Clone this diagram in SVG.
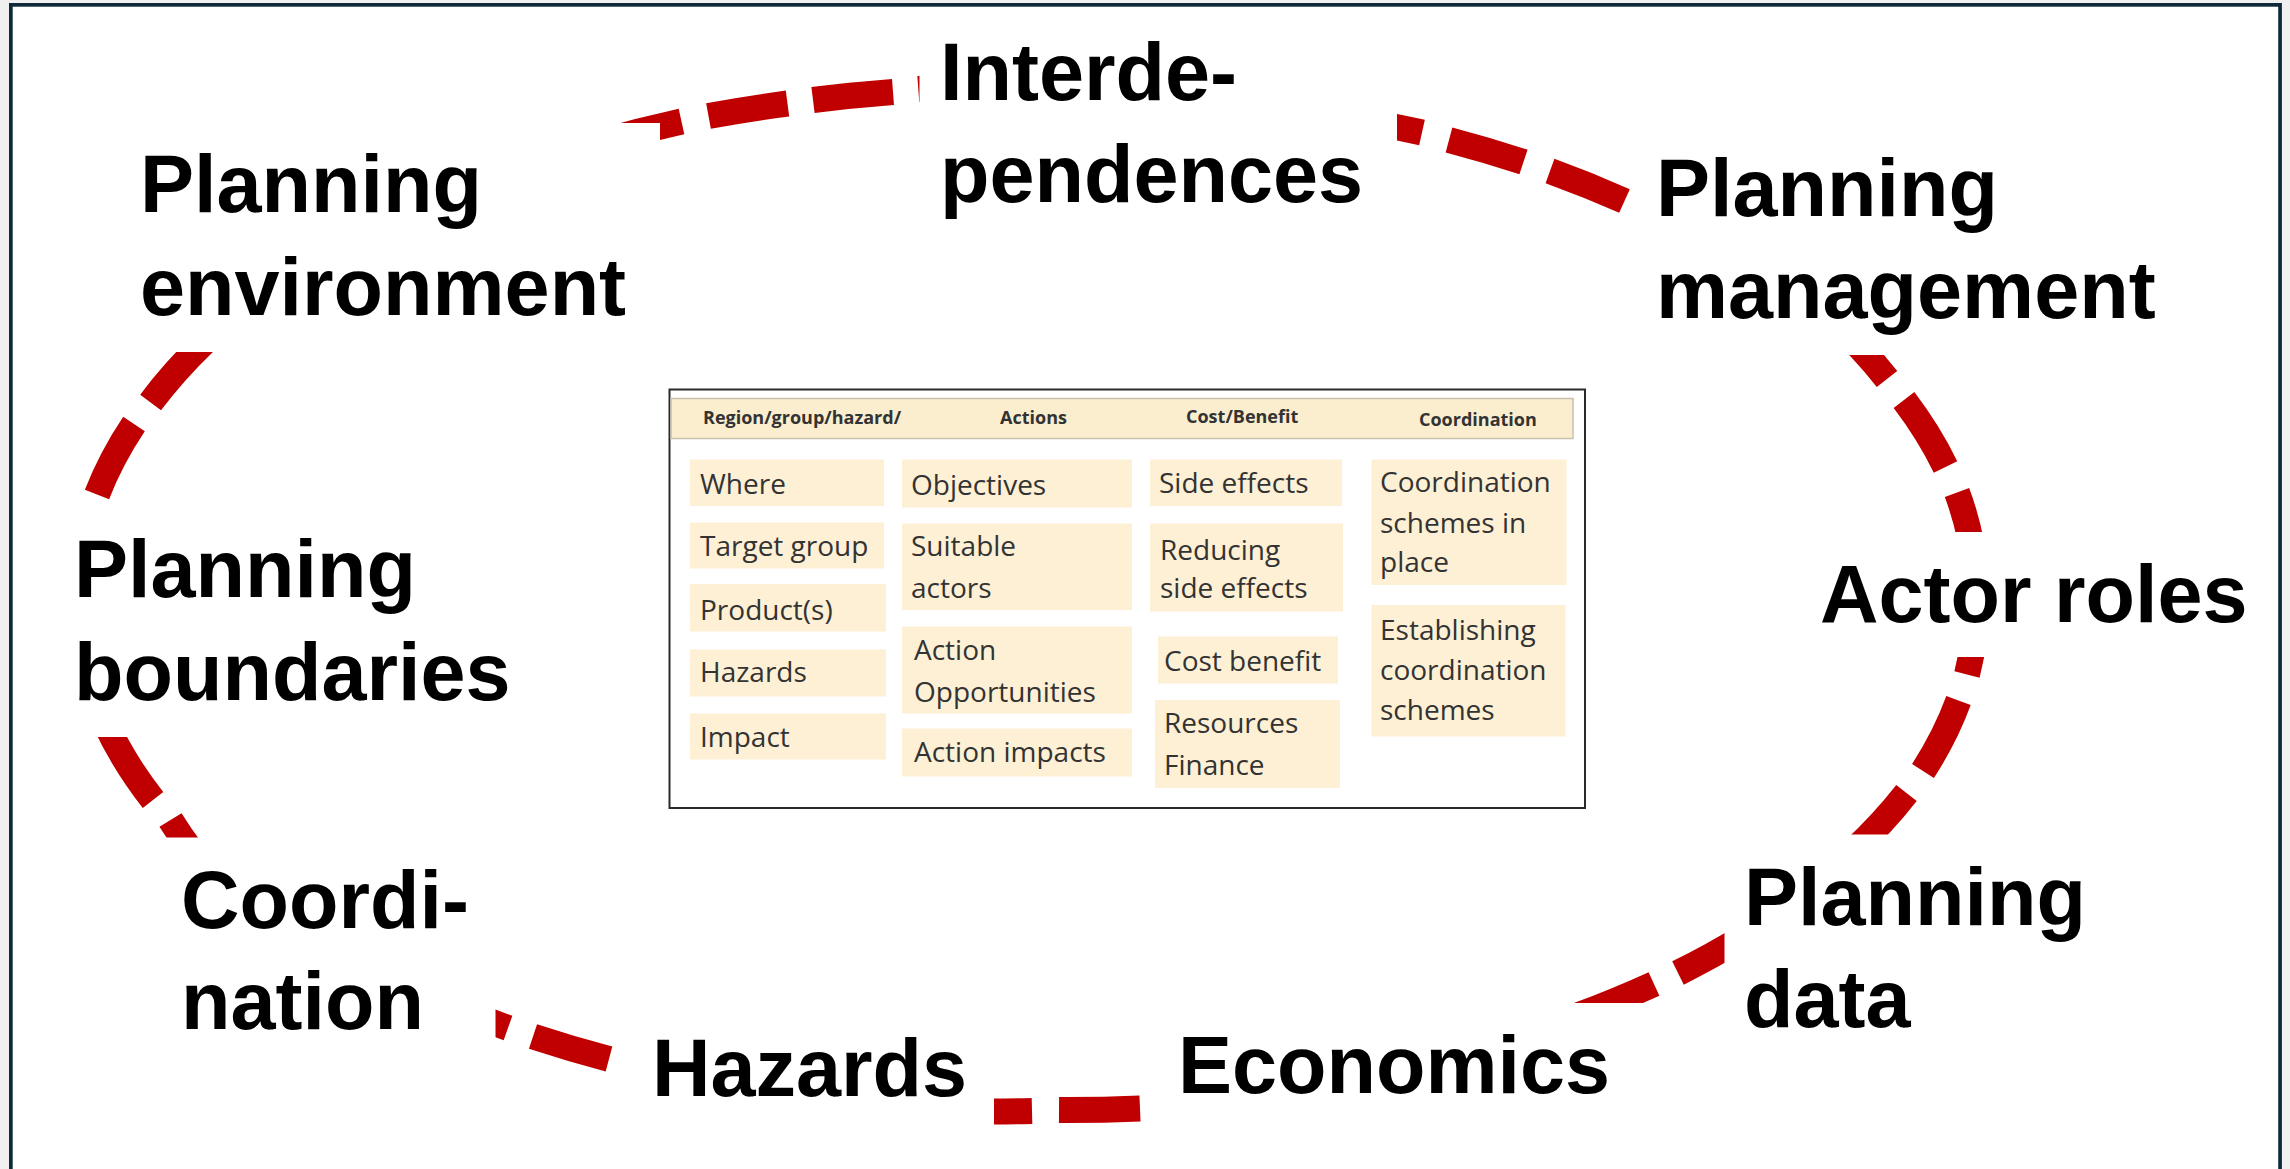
<svg xmlns="http://www.w3.org/2000/svg" width="2290" height="1169" viewBox="0 0 2290 1169">
<style>
.lbl{font-family:"Liberation Sans",Arial,sans-serif;font-weight:700;font-size:81px;fill:#000}
.dash{fill:none;stroke:#c00000;stroke-width:26}
.mask{fill:#fff}
.hdr{font-family:"Open Sans",sans-serif;font-weight:700;font-size:18px;fill:#333}
.ct{font-family:"Open Sans",sans-serif;font-size:28px;fill:#333}
.cell{fill:#fdf0d5}
</style>
<rect x="0" y="0" width="2290" height="1169" fill="#f0f0f0"/>
<rect x="10.85" y="4.85" width="2269.2" height="1200" fill="#fff" stroke="#0e2a3a" stroke-width="3.7"/>
<g id="connectors">
<path class="dash" d="M600 142 A945 517 0 0 1 681.5 121.5"/>
<path class="dash" d="M708.5 116 A945 517 0 0 1 787.5 103.5"/>
<path class="dash" d="M813 100 A945 517 0 0 1 893 92"/>
<path class="dash" d="M918.3 89 A945 517 0 0 1 998 85"/>
<path class="dash" d="M1343 117 A945 517 0 0 1 1422 132.5"/>
<path class="dash" d="M1449 140 A945 517 0 0 1 1523.5 162"/>
<path class="dash" d="M1550 171 A945 517 0 0 1 1624.5 201"/>
<path class="dash" d="M1830 318 A945 517 0 0 1 1887 379"/>
<path class="dash" d="M1904 400 A945 517 0 0 1 1945.5 467"/>
<path class="dash" d="M1957 492.5 A945 517 0 0 1 1975 572"/>
<path class="dash" d="M1976 595 A945 517 0 0 1 1967 674.5"/>
<path class="dash" d="M1958.5 700.5 A945 517 0 0 1 1923 771"/>
<path class="dash" d="M1906.5 793 A945 517 0 0 1 1852 852"/>
<path class="dash" d="M1745 936 A945 517 0 0 1 1678 973"/>
<path class="dash" d="M1654 984 A945 517 0 0 1 1579 1015"/>
<path class="dash" d="M1140 1108.5 A945 517 0 0 1 1059 1110"/>
<path class="dash" d="M1032 1111 A945 517 0 0 1 951 1111"/>
<path class="dash" d="M609 1059 A945 517 0 0 1 533 1036.5"/>
<path class="dash" d="M508 1028 A945 517 0 0 1 432 998"/>
<path class="dash" d="M220 885 A945 517 0 0 1 170.5 820"/>
<path class="dash" d="M153 800 A945 517 0 0 1 105 722"/>
<path class="dash" d="M97 494.5 A945 517 0 0 1 134 424"/>
<path class="dash" d="M150.6 402.5 A945 517 0 0 1 204.5 342"/>
</g>
<g id="planning-environment">
<rect class="mask" x="13" y="123" width="647" height="229"/>
<text class="lbl" x="140" y="212">Planning</text>
<text class="lbl" x="140" y="315">environment</text>
</g>
<g id="interdependences">
<rect class="mask" x="919.5" y="25" width="477.5" height="215"/>
<text class="lbl" x="940" y="100">Interde-</text>
<text class="lbl" x="940" y="202">pendences</text>
</g>
<g id="planning-management">
<rect class="mask" x="1640" y="25" width="638" height="330"/>
<text class="lbl" x="1656" y="216">Planning</text>
<text class="lbl" x="1656" y="318">management</text>
</g>
<g id="actor-roles">
<rect class="mask" x="1800" y="532" width="478" height="125"/>
<text class="lbl" x="1820" y="622">Actor roles</text>
</g>
<g id="planning-data">
<rect class="mask" x="1724.5" y="834.5" width="553" height="320"/>
<text class="lbl" x="1744" y="925">Planning</text>
<text class="lbl" x="1744" y="1027">data</text>
</g>
<g id="economics">
<rect class="mask" x="1160" y="1003" width="560" height="160"/>
<text class="lbl" x="1178" y="1093">Economics</text>
</g>
<g id="hazards">
<rect class="mask" x="625" y="1000" width="369" height="160"/>
<text class="lbl" x="652" y="1096">Hazards</text>
</g>
<g id="coordination">
<rect class="mask" x="13" y="837.5" width="482.5" height="320"/>
<text class="lbl" x="181" y="928">Coordi-</text>
<text class="lbl" x="181" y="1029">nation</text>
</g>
<g id="planning-boundaries">
<rect class="mask" x="13" y="505" width="547" height="232"/>
<text class="lbl" x="74" y="597">Planning</text>
<text class="lbl" x="74" y="700">boundaries</text>
</g>
<g id="table">
<rect x="669.5" y="389.5" width="915.5" height="418.5" fill="#fff" stroke="#2a2a2a" stroke-width="2"/>
<rect x="671" y="398.5" width="902" height="40" fill="#fbeecf" stroke="#c8c0ad" stroke-width="1.5"/>
<text class="hdr" x="703" y="424">Region/group/hazard/</text>
<text class="hdr" x="1000" y="424">Actions</text>
<text class="hdr" x="1186" y="423">Cost/Benefit</text>
<text class="hdr" x="1419" y="425.5">Coordination</text>
<rect class="cell" x="690" y="459.5" width="194" height="46.5"/>
<rect class="cell" x="690" y="522.5" width="194" height="46"/>
<rect class="cell" x="690" y="584" width="196" height="47.5"/>
<rect class="cell" x="690" y="649.5" width="196" height="47"/>
<rect class="cell" x="690" y="713.5" width="196" height="46"/>
<text class="ct" x="700" y="494">Where</text>
<text class="ct" x="700" y="556">Target group</text>
<text class="ct" x="700" y="620">Product(s)</text>
<text class="ct" x="700" y="682">Hazards</text>
<text class="ct" x="700" y="747">Impact</text>
<rect class="cell" x="902" y="459.5" width="230" height="48"/>
<rect class="cell" x="902" y="523.5" width="230" height="86.5"/>
<rect class="cell" x="902" y="626.5" width="230" height="87"/>
<rect class="cell" x="902" y="728.5" width="230" height="48"/>
<text class="ct" x="911" y="495">Objectives</text>
<text class="ct" x="911" y="556">Suitable</text>
<text class="ct" x="911" y="598">actors</text>
<text class="ct" x="914" y="660">Action</text>
<text class="ct" x="914" y="702">Opportunities</text>
<text class="ct" x="914" y="762">Action impacts</text>
<rect class="cell" x="1150" y="459.5" width="192" height="46.5"/>
<rect class="cell" x="1150" y="523.5" width="193" height="88"/>
<rect class="cell" x="1158" y="636.5" width="180" height="47"/>
<rect class="cell" x="1155" y="700" width="185" height="88"/>
<text class="ct" x="1159" y="493">Side effects</text>
<text class="ct" x="1160" y="560">Reducing</text>
<text class="ct" x="1160" y="598">side effects</text>
<text class="ct" x="1164" y="671">Cost benefit</text>
<text class="ct" x="1164" y="733">Resources</text>
<text class="ct" x="1164" y="775">Finance</text>
<rect class="cell" x="1371.5" y="459.5" width="195" height="125.5"/>
<rect class="cell" x="1371.5" y="605" width="194" height="131.5"/>
<text class="ct" x="1380" y="492">Coordination</text>
<text class="ct" x="1380" y="533">schemes in</text>
<text class="ct" x="1380" y="572">place</text>
<text class="ct" x="1380" y="640">Establishing</text>
<text class="ct" x="1380" y="680">coordination</text>
<text class="ct" x="1380" y="720">schemes</text>
</g>
</svg>
